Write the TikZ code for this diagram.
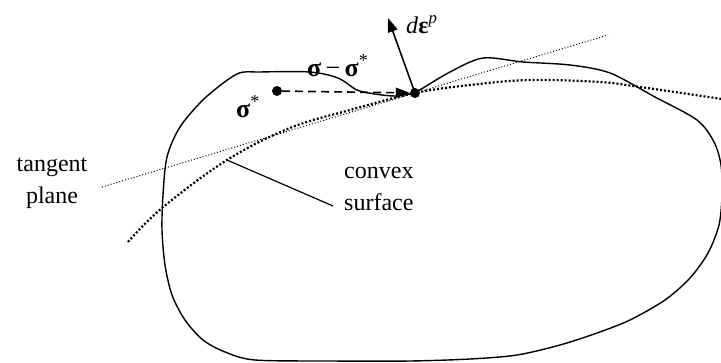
\documentclass[tikz,border=0pt]{standalone}
\usepackage{fontspec}
\setmainfont{Liberation Serif}
\usetikzlibrary{arrows.meta}
\tikzstyle{surface} = [line width=1.4pt, line join=round]
\tikzstyle{convex}  = [line width=2.2pt, dash pattern=on 2pt off 2pt]
\tikzstyle{tangent} = [line width=1pt, dash pattern=on 1pt off 2pt]
\tikzstyle{dot}     = [circle, fill=black, inner sep=0pt, minimum size=10pt]
\tikzstyle{arrow}   = [line width=1.6pt, -{Triangle[length=14pt, width=10pt]}]
\tikzstyle{lbl}     = [font=\fontsize{24}{32}\selectfont, inner sep=0pt]
\tikzstyle{sig}     = [font=\fontsize{26}{30}\selectfont\bfseries, inner sep=0pt]

\begin{document}
\begin{tikzpicture}[x=1pt, y=-1pt]
    \useasboundingbox (0,0) rectangle (721,362);

    % ── Yield surface (corner at the stress point) ──────────────────────────
    \draw [surface] plot[smooth, tension=0.5] coordinates {
        (415,93) (450,72) (483,58) (523,62) (570,65) (610,73) (655,97)
        (697,120) (714,142) (721,165) (722,195) (719,225) (708,253)
        (690,278) (665,300) (630,320) (597,333) (560,345) (517,355)
        (470,359) (410,361) (330,361) (255,360) (225,352) (203,340)
        (185,320) (172,295) (165,265) (162,230) (163,195) (167,157)
        (180,127) (205,98) (237,74) (260,72) (310,72) (338,78) (357,90)
        (375,94) (395,96) (415,93)};

    % ── Convex surface + tangent plane ──────────────────────────────────────
    \draw [convex] plot[smooth, tension=0.6] coordinates {
        (128,242) (162,208) (227,160) (290,128) (350,110) (415,93)
        (470,85) (530,80) (600,82) (640,87) (722,99)};
    \coordinate (tanA) at (102,187);
    \coordinate (tanB) at (608,35);
    \draw [tangent] (tanA) -- (tanB);

    % ── Points ──────────────────────────────────────────────────────────────
    \node (pdot) [dot] at (415,93) {};
    \node (sdot) [dot] at (277,91) {};
    \coordinate (depsTip) at (388,18);

    % ── Labels ──────────────────────────────────────────────────────────────
    \node (tanlbl) [lbl, align=center] at (52,183) {tangent\\plane};
    \node (cvxlbl) [lbl, align=left, anchor=base west] at (344,210)
        {convex\\surface};
    \node (sigstar) [sig, anchor=base west] at (236,117)
        {σ\textsuperscript{\mdseries *}};
    \node (sigdiff) [sig, anchor=base west] at (307,76)
        {σ\,{\mdseries −}\,σ\textsuperscript{\mdseries *}};
    \node (deps) [lbl, anchor=base west] at (406,33)
        {\textit{d}\textbf{ε}\textsuperscript{\textit{p}}};

    % ── Arrows ──────────────────────────────────────────────────────────────
    \draw [arrow, dashed, dash pattern=on 8pt off 5pt] (sdot) -- (pdot);
    \draw [arrow] (pdot.center) -- (depsTip);

    % ── Leader to convex label ──────────────────────────────────────────────
    \coordinate (cvxpt)  at (227,160);
    \coordinate (cvxend) at (333,206);
    \draw [line width=1.2pt] (cvxpt) -- (cvxend);

\end{tikzpicture}
\end{document}
